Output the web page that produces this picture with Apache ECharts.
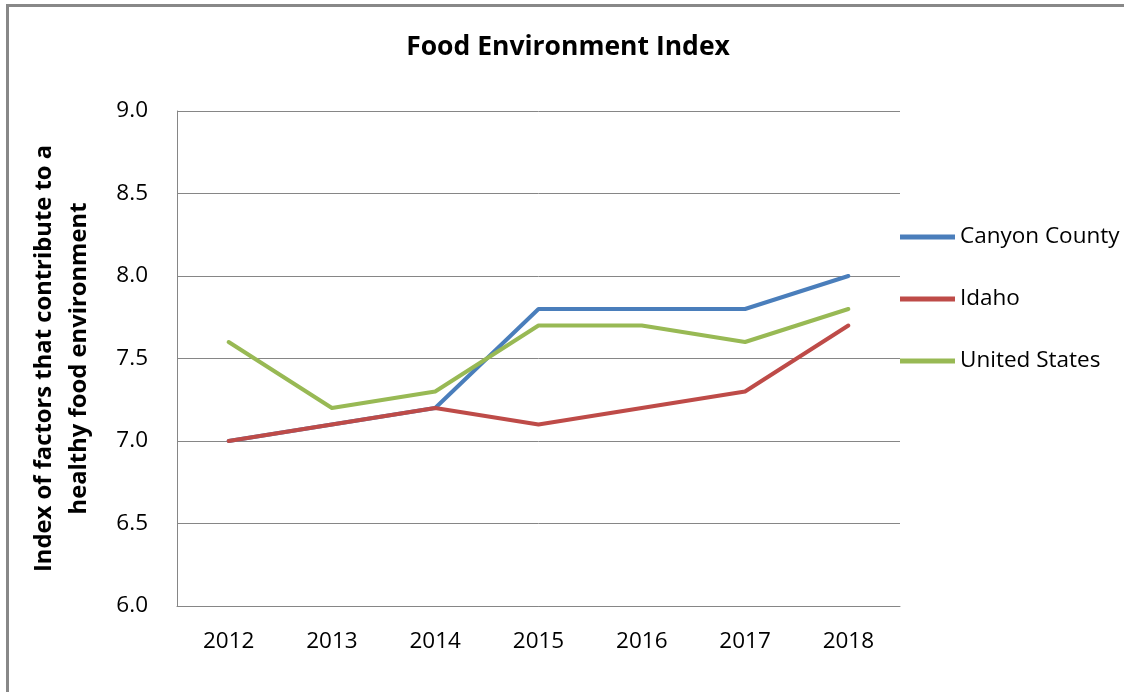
<!DOCTYPE html>
<html><head><meta charset="utf-8">
<script src="https://cdn.jsdelivr.net/npm/echarts@6/dist/echarts.min.js"></script>
<style>html,body{margin:0;padding:0;background:#fff}#c{width:1124px;height:692px}</style>
</head><body><div id="c"></div>
<script>
const categories = ['2012','2013','2014','2015','2016','2017','2018'];
const canyonCounty = [7.0, 7.1, 7.2, 7.8, 7.8, 7.8, 8.0];
const idaho = [7.0, 7.1, 7.2, 7.1, 7.2, 7.3, 7.7];
const unitedStates = [7.6, 7.2, 7.3, 7.7, 7.7, 7.6, 7.8];
const seriesNames = ['Canyon County', 'Idaho', 'United States'];
const FONT = '"Open Sans", "Noto Sans", sans-serif';
const chart = echarts.init(document.getElementById('c'), null, {renderer: 'canvas'});
function line(name, data, color) {
  return {name, type: 'line', data, symbol: 'none', showSymbol: false,
    lineStyle: {color, width: 4, cap: 'round', join: 'round'}, itemStyle: {color}, z: 3, animation: false};
}
chart.setOption({
  animation: false,
  backgroundColor: '#fff',
  title: {text: 'Food Environment Index', left: 568, top: 34, textAlign: 'center', padding: 0,
    textStyle: {fontFamily: FONT, fontSize: 26.5, fontWeight: 'bold', color: '#000'}},
  grid: {left: 177, top: 111, right: 224, bottom: 86, containLabel: false},
  legend: {orient: 'vertical', left: 900, top: 225, padding: 0, itemWidth: 55, itemHeight: 14, itemGap: 38,
    icon: 'path://M0,0 L55,0 L55,5 L0,5 Z',
    textStyle: {fontFamily: FONT, fontSize: 22.5, lineHeight: 24, color: '#000'},
    data: seriesNames},
  xAxis: {type: 'category', data: categories, boundaryGap: true,
    axisLine: {lineStyle: {color: '#868686', width: 1}}, axisTick: {show: false},
    axisLabel: {fontFamily: FONT, fontSize: 22.5, color: '#000', margin: 24}},
  yAxis: {type: 'value', min: 6, max: 9, interval: 0.5,
    name: 'Index of factors that contribute to a\nhealthy food environment',
    nameLocation: 'middle', nameGap: 80, nameRotate: 90,
    nameTextStyle: {fontFamily: FONT, fontSize: 23.8, fontWeight: 'bold', color: '#000', lineHeight: 35},
    axisLine: {show: true, lineStyle: {color: '#868686', width: 1}}, axisTick: {show: false},
    splitLine: {lineStyle: {color: '#868686', width: 1}},
    axisLabel: {fontFamily: FONT, fontSize: 22.5, color: '#000', margin: 29, formatter: v => v.toFixed(1)}},
  graphic: [
    {type: 'rect', shape: {x: 6, y: 4, width: 1118, height: 3}, style: {fill: '#888'}, silent: true},
    {type: 'rect', shape: {x: 6, y: 4, width: 3, height: 688}, style: {fill: '#888'}, silent: true}
  ],
  series: [
    line(seriesNames[0], canyonCounty, '#4A7EBB'),
    line(seriesNames[1], idaho, '#BE4B48'),
    line(seriesNames[2], unitedStates, '#98B954')
  ]
});
</script></body></html>
